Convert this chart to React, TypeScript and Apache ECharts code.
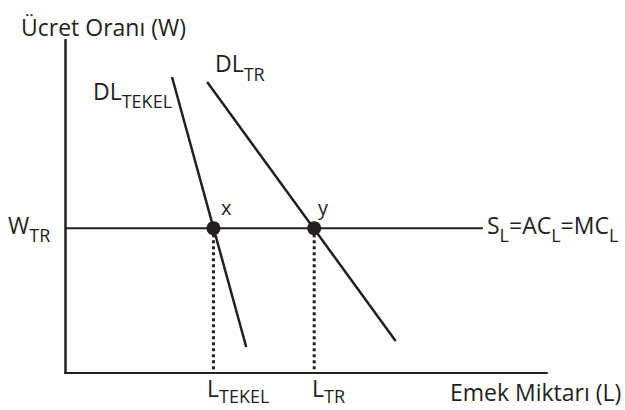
import React, { useEffect, useRef } from "react";
import * as echarts from "echarts";

// Data (arbitrary units, 0..100 on both axes)
const wageLevel = 43.5;
const supplyEndX = 86.7;
const dlTekel: number[][] = [
  [22.2, 88.9],
  [37.6, 7.8],
];
const dlTr: number[][] = [
  [29.5, 87.4],
  [68.6, 9.6],
];
const equilibriumX = [30.8, 51.7];
const pointNames = ["x", "y"];

const INK = "#231f20";
const FONT = "'Open Sans', Lato, sans-serif";

export default function App() {
  const ref = useRef<HTMLDivElement>(null);
  useEffect(() => {
    if (!ref.current) return;
    const chart = echarts.init(ref.current, undefined, { renderer: "svg" });

    const makeRich = (pad: number) => ({
      m: { fontSize: 23, lineHeight: 26, verticalAlign: "top", fill: INK, fontFamily: FONT },
      s: { fontSize: 18, lineHeight: 20, padding: [pad, 0, 0, 0], verticalAlign: "top", fill: INK, fontFamily: FONT },
    });
    const subText = (x: number, y: number, text: string, pad = 13) => ({
      type: "text",
      x,
      y,
      style: { text, rich: makeRich(pad), fill: INK, font: `23px ${FONT}`, verticalAlign: "top", align: "left" },
    });
    const plainText = (x: number, y: number, text: string, size = 23) => ({
      type: "text",
      x,
      y,
      style: { text, fill: INK, font: `${size}px ${FONT}`, verticalAlign: "middle", align: "left" },
    });

    const lineStyle = (width: number, type: any = "solid") => ({ color: INK, width, type });

    chart.setOption({
      animation: false,
      grid: { left: 65, top: 40, width: 482, height: 333, containLabel: false },
      xAxis: {
        type: "value",
        min: 0,
        max: 100,
        axisLine: { show: true, onZero: false, lineStyle: { color: INK, width: 2 } },
        axisTick: { show: false },
        axisLabel: { show: false },
        splitLine: { show: false },
      },
      yAxis: {
        type: "value",
        min: 0,
        max: 100,
        axisLine: { show: true, onZero: false, lineStyle: { color: INK, width: 2.5 } },
        axisTick: { show: false },
        axisLabel: { show: false },
        splitLine: { show: false },
      },
      series: [
        {
          type: "line",
          data: [[0, wageLevel], [supplyEndX, wageLevel]],
          symbol: "none",
          lineStyle: lineStyle(2),
        },
        ...equilibriumX.map((ex) => ({
          type: "line",
          data: [[ex, wageLevel], [ex, 0]],
          symbol: "none",
          lineStyle: lineStyle(3, [3, 3]),
        })),
        {
          type: "line",
          data: dlTekel,
          symbol: "none",
          lineStyle: lineStyle(2.5),
        },
        {
          type: "line",
          data: dlTr,
          symbol: "none",
          lineStyle: lineStyle(2.5),
        },
        {
          type: "scatter",
          data: equilibriumX.map((ex, i) => ({ value: [ex, wageLevel], name: pointNames[i] })),
          symbolSize: 14,
          itemStyle: { color: INK, opacity: 1 },
          z: 5,
        },
      ],
      graphic: [
        plainText(21, 27, "Ücret Oranı (W)"),
        plainText(450, 392, "Emek Miktarı (L)"),
        plainText(221, 207, "x", 20),
        plainText(318, 207, "y", 20),
        subText(93, 79, "{m|DL}{s|TEKEL}"),
        subText(215, 51.5, "{m|DL}{s|TR}"),
        subText(8, 213, "{m|W}{s|TR}"),
        subText(487, 213, "{m|S}{s|L}{m|=AC}{s|L}{m|=MC}{s|L}"),
        subText(207, 376, "{m|L}{s|TEKEL}", 11),
        subText(312, 376, "{m|L}{s|TR}", 11),
      ],
    });
    return () => chart.dispose();
  }, []);
  return (
    <div
      ref={ref}
      style={{ position: "fixed", left: 0, top: 0, width: 625, height: 410, background: "#fff" }}
    />
  );
}
